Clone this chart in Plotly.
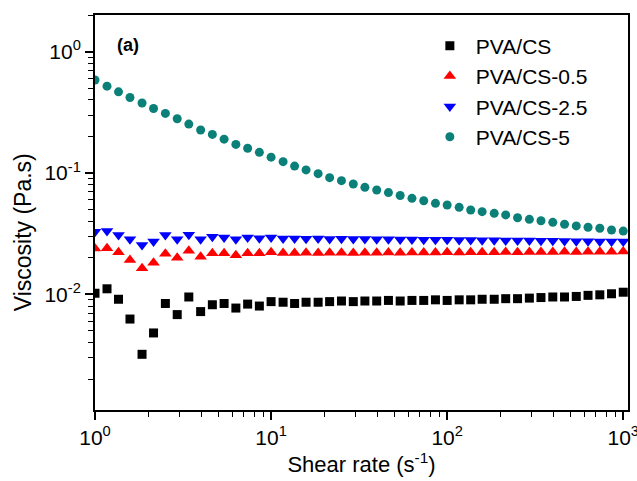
import plotly.graph_objects as go

shear_rate = [1.0, 1.17, 1.36, 1.58, 1.85, 2.15, 2.51, 2.93, 3.41, 3.98, 4.64, 5.41, 6.31, 7.36, 8.58,
              10.0, 11.7, 13.6, 15.8, 18.5, 21.5, 25.1, 29.3, 34.1, 39.8, 46.4, 54.1, 63.1, 73.6, 85.8,
              100, 117, 136, 158, 185, 215, 251, 293, 341, 398, 464, 541, 631, 736, 858, 1000]

pva_cs = [0.0102, 0.0111, 0.0091, 0.00625, 0.0032, 0.0048, 0.0084, 0.0068, 0.0095, 0.0072,
          0.0082, 0.0084, 0.0077, 0.0083, 0.0080, 0.0087, 0.0086, 0.0084, 0.0086, 0.0086,
          0.0087, 0.0088, 0.0087, 0.0088, 0.0088, 0.0089, 0.0088, 0.0089, 0.0089, 0.0090,
          0.0089, 0.0090, 0.0090, 0.0091, 0.0091, 0.0092, 0.0092, 0.0093, 0.0094, 0.0095,
          0.0095, 0.0096, 0.0098, 0.0099, 0.0101, 0.0104]

pva_cs_05 = [0.0239, 0.0240, 0.0222, 0.0192, 0.0164, 0.0182, 0.0216, 0.0200, 0.0229, 0.0204,
             0.0218, 0.0218, 0.0210, 0.0218, 0.0218, 0.0222, 0.0219, 0.0219, 0.0220, 0.0219,
             0.0220, 0.0220, 0.0219, 0.0220, 0.0220, 0.0221, 0.0220, 0.0221, 0.0221, 0.0221,
             0.0222, 0.0221, 0.0222, 0.0222, 0.0222, 0.0223, 0.0222, 0.0223, 0.0223, 0.0223,
             0.0224, 0.0223, 0.0224, 0.0224, 0.0224, 0.0225]

pva_cs_25 = [0.0328, 0.0332, 0.0308, 0.0284, 0.0255, 0.0272, 0.0308, 0.0284, 0.0310, 0.0284,
             0.0298, 0.0294, 0.0284, 0.0294, 0.0290, 0.0294, 0.0288, 0.0289, 0.0287, 0.0288,
             0.0286, 0.0287, 0.0285, 0.0286, 0.0284, 0.0284, 0.0283, 0.0283, 0.0282, 0.0282,
             0.0281, 0.0280, 0.0280, 0.0279, 0.0279, 0.0278, 0.0277, 0.0277, 0.0276, 0.0276,
             0.0275, 0.0274, 0.0274, 0.0273, 0.0273, 0.0272]

pva_cs_5 = [0.585, 0.52, 0.467, 0.419, 0.378, 0.34, 0.31, 0.28, 0.253, 0.226,
            0.208, 0.19, 0.172, 0.16, 0.148, 0.135, 0.124, 0.114, 0.106, 0.0987,
            0.0915, 0.0865, 0.0812, 0.0762, 0.0724, 0.0689, 0.0652, 0.0618, 0.0591, 0.0562,
            0.0545, 0.0521, 0.0495, 0.048, 0.0465, 0.0451, 0.0428, 0.0415, 0.0404, 0.0392,
            0.0378, 0.0366, 0.0357, 0.035, 0.0339, 0.0332]

series_names = ["PVA/CS", "PVA/CS-0.5", "PVA/CS-2.5", "PVA/CS-5"]

x_tickvals = [1, 10, 100, 1000]
x_ticktext = ["10<sup>0</sup>", "10<sup>1</sup>", "10<sup>2</sup>", "10<sup>3</sup>"]
y_tickvals = [0.01, 0.1, 1]
y_ticktext = ["10<sup>-2</sup>", "10<sup>-1</sup>", "10<sup>0</sup>"]

FONT = "Liberation Sans, Arial, sans-serif"

styles = [
    dict(symbol="square", color="#000000", size=9),
    dict(symbol="triangle-up", color="#ff0000", size=11),
    dict(symbol="triangle-down", color="#0000ff", size=11),
    dict(symbol="circle", color="#0a8078", size=9),
]

fig = go.Figure()
for name, ys, st in zip(series_names, [pva_cs, pva_cs_05, pva_cs_25, pva_cs_5], styles):
    fig.add_trace(go.Scatter(
        x=shear_rate, y=ys, mode="markers", name=name,
        marker=dict(symbol=st["symbol"], color=st["color"], size=st["size"], line=dict(width=0)),
    ))

axis_common = dict(
    type="log", showgrid=False, zeroline=False,
    showline=True, linecolor="black", linewidth=2, mirror=True,
    ticks="outside", ticklen=8, tickwidth=1.5, tickcolor="black",
    tickfont=dict(family=FONT, size=21, color="black"),
    minor=dict(ticks="outside", ticklen=5, tickwidth=1.2, tickcolor="black", dtick="D1"),
)

fig.update_xaxes(
    **axis_common, range=[0, 3.027], tickvals=x_tickvals, ticktext=x_ticktext,
    ticklabeloverflow="allow",
    title=dict(text="Shear rate (s<sup>-1</sup>)", font=dict(family=FONT, size=22, color="black"), standoff=4),
)
fig.update_yaxes(
    **axis_common, range=[-2.954, 0.3026], tickvals=y_tickvals, ticktext=y_ticktext,
)

# y-axis title placed as annotation (reference centres it below the plot centre)
fig.add_annotation(
    x=-0.135, y=0.45, xref="paper", yref="paper", text="Viscosity (Pa.s)", showarrow=False,
    textangle=-90, xanchor="center", yanchor="middle",
    font=dict(family=FONT, size=23, color="black"),
)

fig.add_annotation(
    x=0.037, y=0.955, xref="paper", yref="paper", text="<b>(a)</b>", showarrow=False,
    xanchor="left", yanchor="top", font=dict(family=FONT, size=18, color="black"),
)

fig.update_layout(
    width=637, height=481,
    margin=dict(l=95, r=9, t=15, b=71, autoexpand=False),
    paper_bgcolor="white", plot_bgcolor="white",
    showlegend=True,
    legend=dict(
        x=0.617, y=0.973, xanchor="left", yanchor="top",
        bgcolor="rgba(0,0,0,0)", borderwidth=0,
        font=dict(family=FONT, size=21, color="black"),
        itemwidth=42, tracegroupgap=0,
    ),
)

fig.write_html("out.html")
